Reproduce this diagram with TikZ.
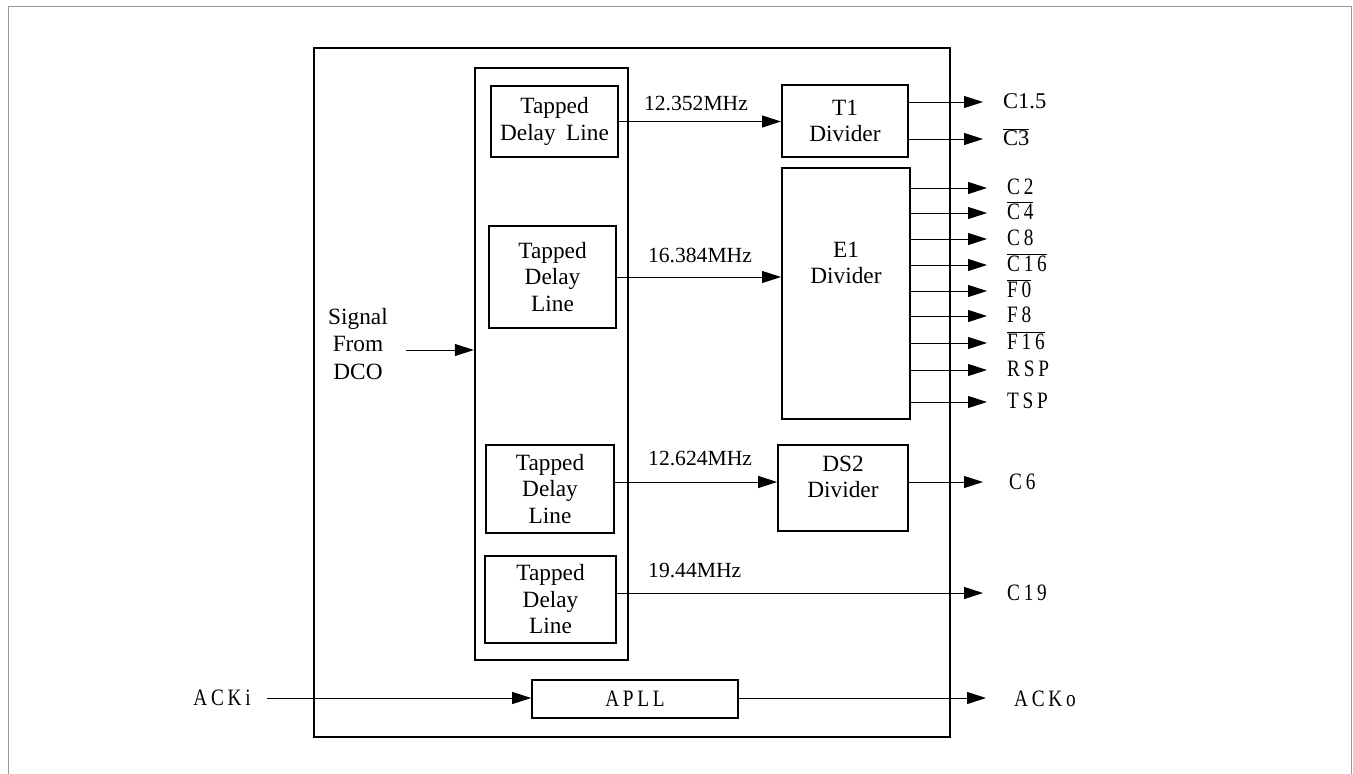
\documentclass[tikz,border=0pt]{standalone}
\usepackage{fontspec}
\setmainfont{Liberation Serif}
\newfontfamily\outf[FakeStretch=0.82,LetterSpace=16]{Liberation Serif}
\usetikzlibrary{arrows.meta}
\newcommand\bxfont{\fontsize{23.3}{26.5}\selectfont}
\newcommand\frqfont{\fontsize{21.6}{25}\selectfont}
\newcommand\lblfont{\fontsize{22.5}{26}\selectfont}
\newcommand\olblfont{\fontsize{23.5}{26}\selectfont}
\newcommand\ovl[1]{$\overline{\hbox{#1}}$}
\begin{document}
\begin{tikzpicture}[x=1pt,y=-1pt,
  box/.style={draw,line width=2pt,inner sep=0pt,align=center,font=\bxfont},
  txt/.style={inner sep=0pt,align=center,font=\bxfont},
  frq/.style={inner sep=0pt,font=\frqfont},
  lbl/.style={inner sep=0pt,anchor=base west,font=\lblfont},
  olbl/.style={inner sep=0pt,anchor=base west,font=\olblfont\outf},
  arr/.style={-{Triangle[length=19pt,width=12pt]},line width=1pt}
]
\useasboundingbox (0,0) rectangle (1353,774);
\draw[gray!80,line width=1pt] (8,774) -- (8,6) -- (1351,6) -- (1351,774);

% main and column
\node[box,line width=2.5pt,minimum width=636pt,minimum height=689pt] (main) at (632,392.5) {};
\node[box,line width=2.4pt,minimum width=153pt,minimum height=592pt] (col) at (551.5,364) {};

% tapped delay lines
\node[box,minimum width=127pt,minimum height=71pt] (tdl1) at (554.5,121.5) {Tapped\\Delay\hspace{0.45em}Line};
\node[box,minimum width=127pt,minimum height=102pt] (tdl2) at (552.5,277) {Tapped\\Delay\\Line};
\node[box,minimum width=128pt,minimum height=88pt] (tdl3) at (550,489) {Tapped\\Delay\\Line};
\node[box,minimum width=131pt,minimum height=87pt] (tdl4) at (550.5,599.5) {Tapped\\Delay\\Line};

% dividers
\node[box,minimum width=126pt,minimum height=72pt] (t1) at (845,121) {T1\\Divider};
\node[box,minimum width=128pt,minimum height=251pt] (e1) at (846,293.5) {};
\node[txt] (e1t) at (846,263) {E1\\Divider};
\node[box,line width=1.8pt,minimum width=130pt,minimum height=86pt] (ds2) at (843,488) {};
\node[txt] (ds2t) at (843,477) {DS2\\Divider};
\node[box,line width=1.6pt,minimum width=206pt,minimum height=38pt,font=\olblfont\outf] (apll) at (635,699) {APLL};

% signal from DCO
\node[txt,font=\fontsize{23.3}{27.5}\selectfont] (sig) at (358,344) {Signal\\From\\DCO};
\coordinate (sigs) at (406,350);
\draw[arr] (sigs) -- (sigs -| col.west);

% frequency arrows
\draw[arr] (tdl1.east) -- (tdl1.east -| t1.west);
\node[frq,anchor=base] (f1) at (696,110) {12.352MHz};
\draw[arr] (tdl2.east) -- (tdl2.east -| e1.west);
\node[frq,anchor=base] (f2) at (700,262) {16.384MHz};
\draw[arr] ([yshift=7pt]tdl3.east) -- ([yshift=7pt]tdl3.east -| ds2.west);
\node[frq,anchor=base west] (f3) at (648,465) {12.624MHz};
\coordinate (c19e) at (983,593);
\draw[arr] (tdl4.east |- c19e) -- (c19e);
\node[frq,anchor=base west] (f4) at (648,577) {19.44MHz};

% T1 outputs
\coordinate (c15e) at (983,102);
\coordinate (c3e) at (983,139);
\draw[arr] (t1.east |- c15e) -- (c15e);
\draw[arr] (t1.east |- c3e) -- (c3e);
\node[lbl] (c15) at (1003,108) {C1.5};
\node[lbl] (c3) at (1003,145) {\ovl{C3}};

% E1 outputs
\foreach \n/\y/\t in {a/188/C2, b/213/\ovl{C4}, c/239/C8, d/265/\ovl{C16}, e/291/\ovl{F0}, f/316/F8, g/343/\ovl{F16}, h/370/RSP, i/402/TSP}{
  \coordinate (e\n) at (987,\y);
  \draw[arr] (e1.east |- e\n) -- (e\n);
  \node[olbl] (l\n) at (1007,\y+6) {\t};
}

% DS2 output and C19
\coordinate (c6e) at (983,482);
\draw[arr] (ds2.east |- c6e) -- (c6e);
\node[olbl] (c6) at (1009,489) {C6};
\node[olbl] (c19) at (1007,600) {C19};

% APLL
\coordinate (ackis) at (267,698);
\draw[arr] (ackis) -- (apll.west |- ackis);
\node[inner sep=0pt,font=\olblfont\outf] (acki) at (222,698) {ACKi};
\coordinate (ackoe) at (986,698);
\draw[arr] (apll.east |- ackoe) -- (ackoe);
\node[olbl] (acko) at (1014,706) {ACKo};
\end{tikzpicture}
\end{document}
